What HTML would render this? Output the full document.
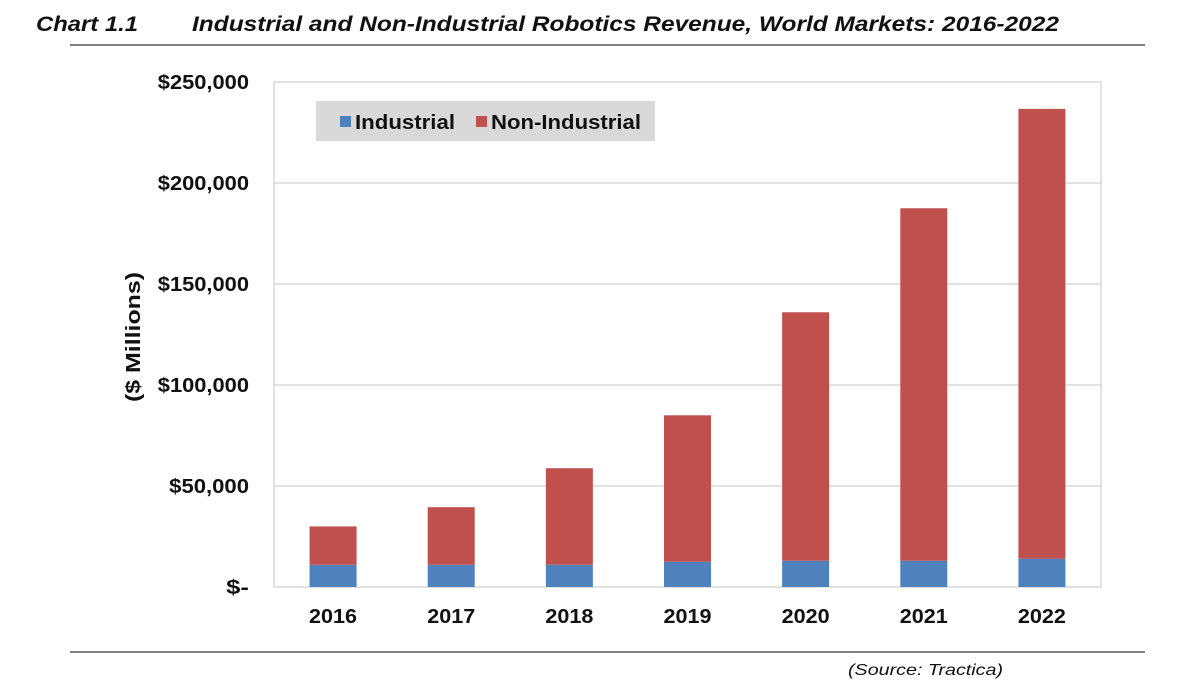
<!DOCTYPE html>
<html><head><meta charset="utf-8"><style>
body{margin:0;background:#fff;width:1200px;height:693px;overflow:hidden;font-family:"Liberation Sans",Arial,sans-serif}
</style></head><body>
<svg width="1200" height="693" xmlns="http://www.w3.org/2000/svg">
<text x="36" y="31" font-size="21" font-weight="bold" font-style="italic" fill="#111" textLength="102" lengthAdjust="spacingAndGlyphs">Chart 1.1</text>
<text x="192" y="31" font-size="21" font-weight="bold" font-style="italic" fill="#111" textLength="867" lengthAdjust="spacingAndGlyphs">Industrial and Non-Industrial Robotics Revenue, World Markets: 2016-2022</text>
<line x1="70" y1="45" x2="1145" y2="45" stroke="#808080" stroke-width="2"/>
<line x1="70" y1="652" x2="1145" y2="652" stroke="#808080" stroke-width="2"/>
<text x="848" y="675" font-size="16" font-style="italic" fill="#111" textLength="155" lengthAdjust="spacingAndGlyphs">(Source: Tractica)</text>
<g id="plot"></g>
</svg>
<script>
const categories=["2016","2017","2018","2019","2020","2021","2022"];
const industrial=[11000,11000,11000,12500,13000,13000,14000];
const nonIndustrial=[19000,28500,47800,72500,123000,174500,222700];
const yTicks=[0,50000,100000,150000,200000,250000];
const yTickLabels=["$-","$50,000","$100,000","$150,000","$200,000","$250,000"];
const L=274,R=1101,T=82,B=587,YMAX=250000;
const y=v=>B-(v/YMAX)*(B-T);
const band=(R-L)/categories.length;
const xc=i=>L+band*(i+0.5);
const BW=47;
const ns="http://www.w3.org/2000/svg";
const g=document.getElementById('plot');
function mk(tag,attrs,parent){const e=document.createElementNS(ns,tag);for(const k in attrs)e.setAttribute(k,attrs[k]);(parent||g).appendChild(e);return e;}
const frame=mk('rect',{x:L,y:T,width:R-L,height:B-T,fill:'#fff',stroke:'#d9d9d9','stroke-width':1.5});


yTicks.forEach((v,i)=>{
  if(v>0&&v<YMAX){const ln=mk('line',{x1:L,x2:R,y1:y(v),y2:y(v),stroke:'#d9d9d9','stroke-width':1.5});
  
  }
  const lab=yTickLabels[i];
  const t=mk('text',{x:249,y:y(v)+7,'font-size':20,'font-weight':'bold','text-anchor':'end',fill:'#111',textLength:lab.length*11.4,lengthAdjust:'spacingAndGlyphs'});
  t.textContent=lab;
  
  
});
categories.forEach((c,i)=>{
  const x0=xc(i)-BW/2;
  const a=mk('rect',{x:x0,y:y(industrial[i]),width:BW,height:B-y(industrial[i]),fill:'#4f81bd'});
  
  
  const tot=industrial[i]+nonIndustrial[i];
  const b=mk('rect',{x:x0,y:y(tot),width:BW,height:y(industrial[i])-y(tot),fill:'#c0504d'});
  
  
  const t=mk('text',{x:xc(i),y:623,'font-size':20,'font-weight':'bold','text-anchor':'middle',fill:'#111',textLength:48,lengthAdjust:'spacingAndGlyphs'});
  t.textContent=c;
  
  
});
const yt=mk('text',{transform:'translate(140,337) rotate(-90)','font-size':20,'font-weight':'bold','text-anchor':'middle',fill:'#111',textLength:130,lengthAdjust:'spacingAndGlyphs'});
yt.textContent='($ Millions)';


const lg=mk('g',{});


mk('rect',{x:316,y:101,width:339,height:40,fill:'#d9d9d9'},lg);
const s1=mk('rect',{x:340,y:116,width:11,height:11,fill:'#4f81bd'},lg);


const l1=mk('text',{x:355,y:129,'font-size':20,'font-weight':'bold',fill:'#111',textLength:100,lengthAdjust:'spacingAndGlyphs'},lg);
l1.textContent='Industrial';


const s2=mk('rect',{x:476,y:116,width:11,height:11,fill:'#c0504d'},lg);


const l2=mk('text',{x:491,y:129,'font-size':20,'font-weight':'bold',fill:'#111',textLength:150,lengthAdjust:'spacingAndGlyphs'},lg);
l2.textContent='Non-Industrial';


</script>
</body></html>
